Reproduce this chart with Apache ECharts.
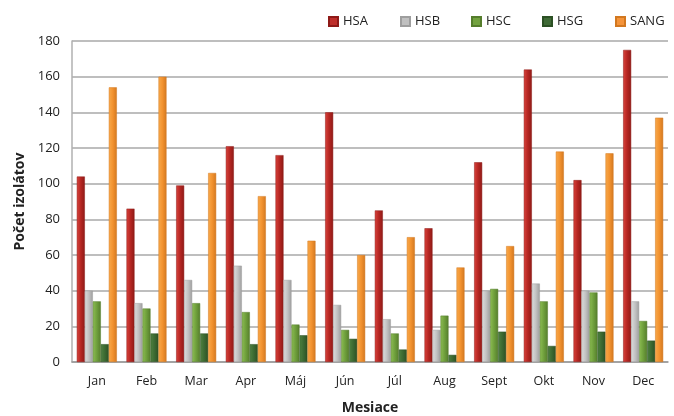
<!DOCTYPE html>
<html>
<head>
<meta charset="utf-8">
<script src="https://cdn.jsdelivr.net/npm/echarts@6/dist/echarts.min.js"></script>
<style>
html,body{margin:0;padding:0;background:#fff;}
#c{width:674px;height:416px;}
</style>
</head>
<body>
<div id="c"></div>
<script>
const months = ['Jan','Feb','Mar','Apr','Máj','Jún','Júl','Aug','Sept','Okt','Nov','Dec'];
const seriesNames = ['HSA','HSB','HSC','HSG','SANG'];
const HSA  = [104, 86, 99, 121, 116, 140, 85, 75, 112, 164, 102, 175];
const HSB  = [40, 33, 46, 54, 46, 32, 24, 18, 40, 44, 40, 34];
const HSC  = [34, 30, 33, 28, 21, 18, 16, 26, 41, 34, 39, 23];
const HSG  = [10, 16, 16, 10, 15, 13, 7, 4, 17, 9, 17, 12];
const SANG = [154, 160, 106, 93, 68, 60, 70, 53, 65, 118, 117, 137];
const yTicks = {min: 0, max: 180, interval: 20};

const colors = [
  ['#d9433c','#b52622','#8e1a17'],
  ['#dcdcdc','#c2c2c2','#9e9e9e'],
  ['#8cbd52','#6f9f3c','#557d2c'],
  ['#4f8240','#3c6a32','#2c5024'],
  ['#f8a94a','#f2922f','#d27820']
];
const legendColors = ['#be2e2a','#c0c0c0','#72a23f','#3f6a36','#f5943a'];
const legendLeft = [323, 395, 466, 537, 610];
const dataArr = [HSA, HSB, HSC, HSG, SANG];
const font = '"Open Sans", "Noto Sans", sans-serif';

const chart = echarts.init(document.getElementById('c'));
chart.setOption({
  animation: false,
  textStyle: {fontFamily: font},
  legend: seriesNames.map((n, i) => ({
    left: legendLeft[i], top: 10,
    itemWidth: 9, itemHeight: 9,
    icon: 'rect',
    textStyle: {fontSize: 13, color: '#222', fontFamily: font},
    data: [{name: n, itemStyle: {color: legendColors[i]}}]
  })),
  grid: {left: 72, right: 6, top: 41, bottom: 54, outerBoundsMode: 'none', containLabel: false},
  xAxis: {
    type: 'category',
    data: months,
    name: 'Mesiace',
    nameLocation: 'middle',
    nameGap: 39,
    nameTextStyle: {fontSize: 14, fontWeight: 'bold', color: '#222', fontFamily: font},
    axisLine: {lineStyle: {color: '#9a9a9a', width: 1.5}},
    axisTick: {show: false},
    axisLabel: {fontSize: 12.5, color: '#222', margin: 13}
  },
  yAxis: {
    type: 'value',
    min: yTicks.min, max: yTicks.max, interval: yTicks.interval,
    name: 'Počet izolátov',
    nameLocation: 'middle',
    nameGap: 45,
    nameTextStyle: {fontSize: 14, fontWeight: 'bold', color: '#222', fontFamily: font},
    axisLine: {show: true, lineStyle: {color: '#b0b0b0', width: 1.5}},
    axisTick: {show: false},
    splitLine: {lineStyle: {color: '#a8a8a8', width: 1.5}},
    axisLabel: {fontSize: 13, color: '#222', margin: 12, padding: [5, 0, 0, 0]}
  },
  series: seriesNames.map((n, i) => ({
    name: n,
    type: 'bar',
    data: dataArr[i],
    barWidth: 8,
    barGap: '0%',
    itemStyle: {
      color: new echarts.graphic.LinearGradient(0, 0, 1, 0, [
        {offset: 0, color: colors[i][0]},
        {offset: 0.5, color: colors[i][1]},
        {offset: 1, color: colors[i][2]}
      ]),
      borderColor: colors[i][2],
      borderWidth: 0.5
    }
  }))
});
</script>
</body>
</html>
